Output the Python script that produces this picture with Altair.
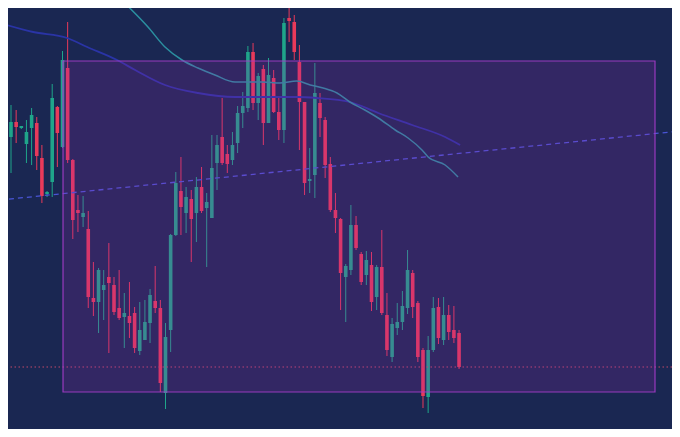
import altair as alt
import pandas as pd

# ---- candle data (bar index, prices in chart units) ----
bar_index = list(range(90))
open_ = [342,279,300,315,309,293,309,314,279,243,
         255,330,290,369,277,227,220,208,139,135,
         147,160,152,129,120,121,124,86,97,114,
         136,129,44,107,202,246,224,238,224,250,
         229,219,274,300,283,277,294,324,329,385,
         334,368,314,359,325,307,419,415,375,335,
         256,262,334,317,273,227,218,160,167,212,
         183,162,172,140,170,122,80,109,115,129,
         164,134,87,40,87,130,97,122,107,104]
high = [347,315,332,327,311,317,329,320,292,246,
        353,331,386,415,278,242,241,226,175,169,
        167,194,160,167,144,155,130,135,137,148,
        171,137,114,203,265,280,250,247,260,270,
        244,302,302,339,292,305,331,345,391,394,
        364,372,379,367,339,419,439,422,392,335,
        289,374,344,320,280,244,219,173,232,221,
        185,186,185,172,207,144,119,134,146,187,
        167,136,89,101,140,139,140,132,131,107]
low = [265,272,264,294,308,274,272,267,234,240,
       240,270,289,274,198,205,210,129,121,104,
       117,84,122,117,89,99,84,82,97,94,
       124,45,28,85,201,202,204,175,195,224,
       170,219,247,272,264,272,284,309,325,327,
       317,292,314,324,297,294,395,377,287,242,
       244,239,300,259,225,204,127,115,162,187,
       152,152,126,127,122,81,75,102,107,123,
       119,75,29,24,85,93,92,97,94,68]
close = [280,302,315,310,311,305,322,281,241,245,
         339,304,377,277,217,224,224,140,135,167,
         152,154,125,119,124,114,89,107,115,142,
         129,54,100,202,254,230,240,218,250,226,
         235,269,292,274,273,292,324,331,385,334,
         361,314,362,325,307,414,416,385,335,254,
         258,344,319,272,227,219,164,171,212,189,
         155,177,135,170,124,87,113,115,131,167,
         130,80,41,87,129,99,122,105,99,70]

# ---- moving averages ----
ma_fast_idx = [20.6,23.5,28.6,31.9,35.2,38.3,41.6,45.5,48.4,50.9,54.2,57.5,60.1,62.6,65.3,67.8,70.7,73.3,76.6,79.1,81.8,83.0,86.3,88.8]
ma_fast_val = [452,437,410,390,377,369,362,355,355,355,354,356,352,349,344,335,327,319,307,299,287,280,272,260]
ma_slow_idx = [-0.14,6.3,12.9,16.8,22.6,26.1,31.9,38.3,45.5,50.9,57.5,61.4,67.8,73.3,79.9,86.3,89.2]
ma_slow_val = [414,405,399,390,377,367,352,344,340,340,340,339,335,324,312,300,292]

# ---- trend line, support level, range zone ----
trend_idx = [-0.14, 132.0]
trend_val = [237, 306]
support_level = [70]
zone_start = [12.1]
zone_end = [127.05]
zone_top = [376]
zone_bottom = [45]

UP = "#1fa58a"
DOWN = "#e83a5a"
BG = "#1a2752"

xs = alt.Scale(domain=[1.417, 130.35], nice=False, zero=False, padding=0)
ys = alt.Scale(domain=[8, 429], nice=False, zero=False, padding=0)

candles = pd.DataFrame({"bar": bar_index, "open": open_, "high": high,
                        "low": low, "close": close})
color = alt.condition("datum.close >= datum.open", alt.value(UP), alt.value(DOWN))

base = alt.Chart(candles)
wicks = base.mark_rule(strokeWidth=1, clip=True).encode(
    x=alt.X("bar:Q", scale=xs, axis=None),
    y=alt.Y("low:Q", scale=ys, axis=None),
    y2="high:Q",
    color=color,
)
bodies = base.mark_bar(size=3.6, clip=True).encode(
    x=alt.X("bar:Q", scale=xs, axis=None),
    y=alt.Y("open:Q", scale=ys, axis=None),
    y2="close:Q",
    color=color,
)

fast = alt.Chart(pd.DataFrame({"bar": ma_fast_idx, "ma": ma_fast_val})).mark_line(
    color="#2b8fa0", strokeWidth=1.5, interpolate="monotone", clip=True
).encode(x=alt.X("bar:Q", scale=xs, axis=None), y=alt.Y("ma:Q", scale=ys, axis=None))

slow = alt.Chart(pd.DataFrame({"bar": ma_slow_idx, "ma": ma_slow_val})).mark_line(
    color="#2a34a6", strokeWidth=1.8, interpolate="monotone", clip=True
).encode(x=alt.X("bar:Q", scale=xs, axis=None), y=alt.Y("ma:Q", scale=ys, axis=None))

trend = alt.Chart(pd.DataFrame({"bar": trend_idx, "v": trend_val})).mark_line(
    color="#4a55d6", strokeWidth=1.3, strokeDash=[5, 4], clip=True
).encode(x=alt.X("bar:Q", scale=xs, axis=None), y=alt.Y("v:Q", scale=ys, axis=None))

support = alt.Chart(pd.DataFrame({"level": support_level})).mark_rule(
    color="#c0486a", strokeWidth=1, strokeDash=[1.5, 2.5], clip=True
).encode(y=alt.Y("level:Q", scale=ys, axis=None))

zone = alt.Chart(pd.DataFrame({"s": zone_start, "e": zone_end,
                               "t": zone_top, "b": zone_bottom})).mark_rect(
    fill="#9c27b0", fillOpacity=0.2, stroke="#a43cc8", strokeWidth=1.2,
    strokeOpacity=0.9, clip=True
).encode(
    x=alt.X("s:Q", scale=xs, axis=None), x2="e:Q",
    y=alt.Y("t:Q", scale=ys, axis=None), y2="b:Q",
)

chart = alt.layer(wicks, bodies, slow, fast, trend, support, zone).properties(
    width=664, height=421, padding=0, background=BG
).configure_view(strokeWidth=0)

chart.save("out.html", embed_options={"renderer": "svg", "actions": False})
